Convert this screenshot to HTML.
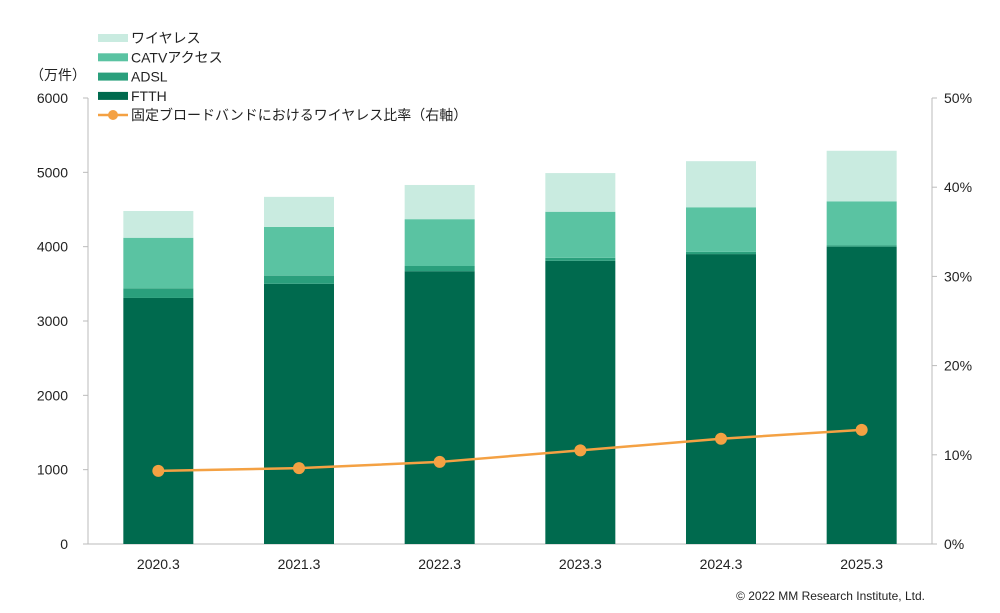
<!DOCTYPE html>
<html><head><meta charset="utf-8"><style>
body{margin:0;background:#fff;font-family:"Liberation Sans","Noto Sans CJK JP",sans-serif}
svg text{font-family:"Liberation Sans","Noto Sans CJK JP",sans-serif;fill:#222}
</style></head><body>
<svg id="c" width="1000" height="608"></svg>
<script>
const categories=["2020.3","2021.3","2022.3","2023.3","2024.3","2025.3"];
const ftth=[3310,3500,3670,3810,3900,4000];
const adsl=[130,110,70,40,30,20];
const catv=[680,655,630,620,600,590];
const wireless=[360,405,460,520,620,680];
const ratio=[8.2,8.5,9.2,10.5,11.8,12.8];
const leftTicks=[0,1000,2000,3000,4000,5000,6000];
const rightTicks=[0,10,20,30,40,50];
const NS="http://www.w3.org/2000/svg",svg=document.getElementById('c');
function el(t,a,txt){const e=document.createElementNS(NS,t);for(const k in a)e.setAttribute(k,a[k]);if(txt!==undefined)e.textContent=txt;svg.appendChild(e);return e;}
const x0=88,x1=932,yB=544,yT=98;
const y=v=>yB-(v/6000)*(yB-yT);
const yr=v=>yB-(v/50)*(yB-yT);
const bw=(x1-x0)/categories.length;
const xc=i=>x0+bw*(i+0.5);
let e=el('line',{x1:x0,y1:yT,x2:x0,y2:yB,stroke:'#bbb'});
e=el('line',{x1:x1,y1:yT,x2:x1,y2:yB,stroke:'#bbb'});
e=el('line',{x1:x0,y1:yB,x2:x1,y2:yB,stroke:'#bbb'});
leftTicks.forEach(t=>{e=el('text',{x:x0-20,y:y(t)+5,'text-anchor':'end','font-size':14},t);el('line',{x1:x0-5,y1:y(t),x2:x0,y2:y(t),stroke:'#bbb'});});
rightTicks.forEach(t=>{e=el('text',{x:x1+12,y:yr(t)+5,'font-size':14},t+'%');el('line',{x1:x1,y1:yr(t),x2:x1+5,y2:yr(t),stroke:'#bbb'});});
e=el('text',{x:30,y:80,'font-size':14},'（万件）');
const series=[[ftth,'#006a4e','ftth'],[adsl,'#2a9f7c','adsl'],[catv,'#5ac3a2','catv'],[wireless,'#c9ebe0','wireless']];
categories.forEach((c,i)=>{
 let acc=0;
 series.forEach(([d,col,n])=>{const r=el('rect',{x:xc(i)-35,y:y(acc+d[i]),width:70,height:y(acc)-y(acc+d[i]),fill:col});
 acc+=d[i];});
 e=el('text',{x:xc(i),y:yB+25,'text-anchor':'middle','font-size':14},c);
});
e=el('polyline',{points:ratio.map((v,i)=>xc(i)+','+yr(v)).join(' '),fill:'none',stroke:'#f4a143','stroke-width':2.5});

ratio.forEach((v,i)=>{e=el('circle',{cx:xc(i),cy:yr(v),r:6,fill:'#f4a143'});});
const leg=[['ワイヤレス','#c9ebe0'],['CATVアクセス','#5ac3a2'],['ADSL','#2a9f7c'],['FTTH','#006a4e']];
leg.forEach(([t,c],k)=>{const yy=38+k*19.3;
 e=el('rect',{x:98,y:yy-4,width:30,height:8,fill:c});
 e=el('text',{x:131,y:yy+5,'font-size':14},t);});
el('line',{x1:98,y1:115,x2:128,y2:115,stroke:'#f4a143','stroke-width':2.5});
el('circle',{cx:113,cy:115,r:5,fill:'#f4a143'});
e=el('text',{x:131,y:120,'font-size':14},'固定ブロードバンドにおけるワイヤレス比率（右軸）');
e=el('text',{x:925,y:600,'text-anchor':'end','font-size':12},'© 2022 MM Research Institute, Ltd.');
</script>
</body></html>
